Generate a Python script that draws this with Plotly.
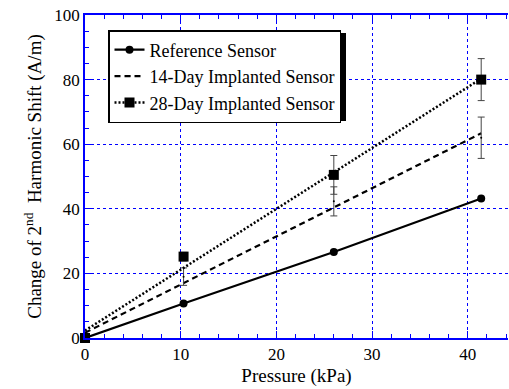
import copy
import plotly.graph_objects as go
import plotly.io as pio

# ---- data ----
pressure = [0, 10.3, 26.0, 41.4]
ref_shift = [0, 10.7, 26.6, 43.2]
day14_shift = [0, 19.0, 42.3, 62.0]
day14_err = [0, 2.7, 4.5, 6.4]
day28_shift = [0, 25.2, 50.5, 80.0]
day28_err = [0, 1.3, 6.0, 6.5]
fit_x = [0, 41.4]
fit14_y = [1.6, 63.4]
fit28_y = [2.3, 80.3]

names = ["Reference Sensor", "14-Day Implanted Sensor", "28-Day Implanted Sensor"]

FONT = "Liberation Serif, Times New Roman, serif"
BLUE = "#0000ff"
DASH = "6px,4px"
DOT = "2px,2px"

tmpl = copy.deepcopy(pio.templates["plotly"])
tmpl.layout.font.color = "#000000"
tmpl.layout.font.family = FONT

fig = go.Figure()

fig.add_trace(go.Scatter(x=fit_x, y=fit14_y, mode="lines",
                         line=dict(color="black", width=2.2, dash=DASH),
                         showlegend=False, hoverinfo="skip"))
fig.add_trace(go.Scatter(x=pressure, y=day14_shift, mode="markers",
                         marker=dict(color="black", size=2),
                         error_y=dict(type="data", array=day14_err, color="#444",
                                      thickness=1, width=3.5),
                         showlegend=False, cliponaxis=False))
fig.add_trace(go.Scatter(x=fit_x, y=fit28_y, mode="lines",
                         line=dict(color="black", width=2.5, dash=DOT),
                         showlegend=False, hoverinfo="skip"))
fig.add_trace(go.Scatter(x=pressure, y=day28_shift, mode="markers",
                         marker=dict(color="black", size=10, symbol="square"),
                         error_y=dict(type="data", array=day28_err, color="#444",
                                      thickness=1, width=3.5),
                         showlegend=False, cliponaxis=False))
fig.add_trace(go.Scatter(x=pressure, y=ref_shift, mode="lines+markers",
                         line=dict(color="black", width=2.2),
                         marker=dict(color="black", size=8, symbol="circle"),
                         name=names[0], cliponaxis=False))
fig.add_trace(go.Scatter(x=[None], y=[None], mode="lines+markers",
                         line=dict(color="black", width=2.2, dash=DASH),
                         marker=dict(color="black", size=2), name=names[1]))
fig.add_trace(go.Scatter(x=[None], y=[None], mode="lines+markers",
                         line=dict(color="black", width=2.5, dash=DOT),
                         marker=dict(color="black", size=10, symbol="square"),
                         name=names[2]))

fig.update_xaxes(range=[0, 44.2], tick0=0, dtick=10,
                 showline=True, linecolor=BLUE, linewidth=1.5,
                 ticks="inside", ticklen=7, tickcolor=BLUE, tickwidth=1,
                 showgrid=True, gridcolor=BLUE, griddash="dot", gridwidth=1,
                 zeroline=False,
                 tickfont=dict(family=FONT, size=17),
                 minor=dict(dtick=2, ticks="inside", ticklen=4, tickcolor=BLUE, showgrid=False),
                 mirror="ticks",
                 title=dict(text="Pressure (kPa)", font=dict(family=FONT, size=19),
                            standoff=6))
fig.update_yaxes(range=[0, 100], tick0=0, dtick=20,
                 showline=True, linecolor=BLUE, linewidth=1.5,
                 ticks="inside", ticklen=7, tickcolor=BLUE, tickwidth=1,
                 showgrid=True, gridcolor=BLUE, griddash="dot", gridwidth=1,
                 zeroline=False,
                 tickfont=dict(family=FONT, size=17),
                 minor=dict(dtick=5, ticks="inside", ticklen=4, tickcolor=BLUE, showgrid=False),
                 title=dict(text="Change of 2<sup>nd</sup>  Harmonic Shift (A/m)",
                            font=dict(family=FONT, size=19), standoff=8))

W, H = 509, 389
ml, mr, mt, mb = 85, 1, 15, 51
pw, ph = W - ml - mr, H - mt - mb

def px_x(p):
    return (p - ml) / pw

def px_y(p):
    return (H - mb - p) / ph

fig.add_shape(type="rect", xref="paper", yref="paper",
              x0=px_x(111), x1=px_x(346), y0=px_y(121), y1=px_y(33),
              fillcolor="black", line=dict(width=0), layer="above")

fig.update_layout(
    template=tmpl,
    width=W, height=H,
    margin=dict(l=ml, r=mr, t=mt, b=mb),
    plot_bgcolor="white", paper_bgcolor="white",
    showlegend=True,
    legend=dict(x=px_x(108), y=px_y(30), xanchor="left", yanchor="top",
                bgcolor="white", bordercolor="black", borderwidth=1.5,
                font=dict(family=FONT, size=18),
                tracegroupgap=0),
)

fig.write_html("out.html")
